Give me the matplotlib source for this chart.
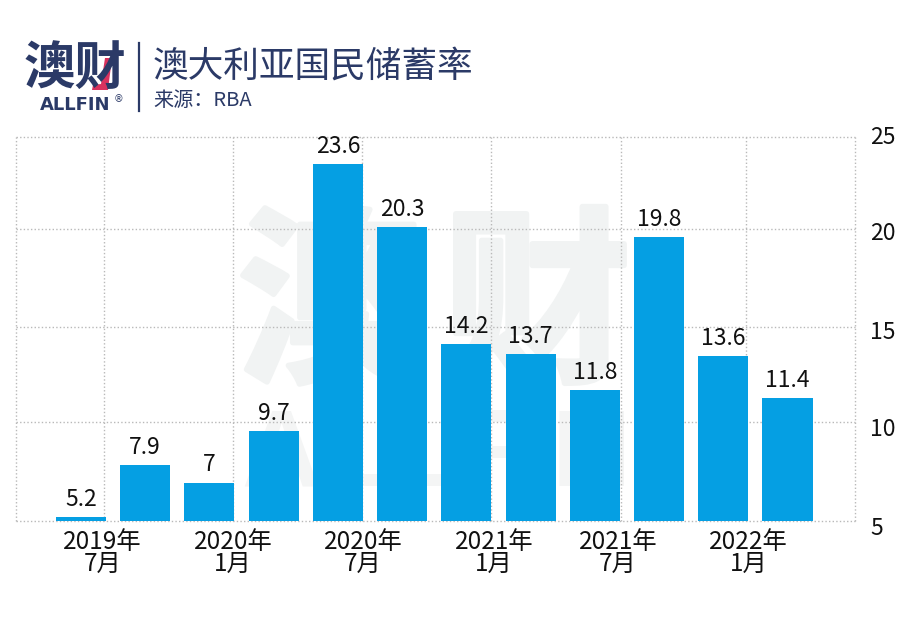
import matplotlib
matplotlib.use("Agg")
import matplotlib.pyplot as plt
import matplotlib.patheffects as pe
from matplotlib.lines import Line2D
from matplotlib.patches import Polygon

plt.rcParams['font.family'] = ['Noto Sans CJK SC', 'DejaVu Sans']

# data
periods = ["2019-07", "2019-10", "2020-01", "2020-04", "2020-07", "2020-10",
           "2021-01", "2021-04", "2021-07", "2021-10", "2022-01", "2022-04"]
saving_rate = [5.2, 7.9, 7, 9.7, 23.6, 20.3, 14.2, 13.7, 11.8, 19.8, 13.6, 11.4]
x_labels = ["2019年\n7月", "2020年\n1月", "2020年\n7月", "2021年\n1月", "2021年\n7月", "2022年\n1月"]
y_labels = ["5", "10", "15", "20", "25"]

W, H = 915, 618
NAVY = "#2b3a67"
BLUE = "#059fe3"
GRID = "#b9b9b9"
WATERMARK = "#f1f3f3"


def fx(px):
    return px / W


def fy(py):
    return 1 - py / H


fig = plt.figure(figsize=(W / 100, H / 100), dpi=100)
ax = fig.add_axes([fx(16), fy(521), fx(855 - 16), (521 - 137) / H])
ax.set_zorder(2)
ax.patch.set_alpha(0)

# watermark sits behind the bars
heavy = [pe.withStroke(linewidth=4, foreground=WATERMARK)]
fig.text(fx(332), fy(312), "澳", fontsize=136, fontweight="black", color=WATERMARK,
         ha="center", va="center", zorder=0, path_effects=heavy)
fig.text(fx(537), fy(312), "财", fontsize=136, fontweight="black", color=WATERMARK,
         ha="center", va="center", zorder=0, path_effects=heavy)
fig.text(fx(436), fy(457), "ALLFIN", fontsize=79, fontweight="bold", color="#f4f5f5",
         ha="center", va="center", zorder=0, family="Liberation Sans")

x = range(len(saving_rate))
bars = ax.bar(x, saving_rate, width=0.78, color=BLUE, zorder=3)
ax.bar_label(bars, fmt="%g", padding=4.5, fontsize=16.5, color="#111111")

ax.set_xlim(-1.01, 12.05)
ax.set_ylim(5, 25)

# the dotted grid in the original does not line up exactly with the value scale
grid_y = [5, 10.17, 15.1, 20.2, 25]
grid_x = [-1.01, 0.36, 2.37, 4.38, 6.39, 8.41, 10.36, 12.05]
ax.hlines(grid_y, -1.01, 12.05, color=GRID, linestyle=(0, (1, 1.6)), lw=1, zorder=1, clip_on=False)
ax.vlines(grid_x, 5, 25, color=GRID, linestyle=(0, (1, 1.6)), lw=1, zorder=1, clip_on=False)

for s in ax.spines.values():
    s.set_visible(False)

ax.set_xticks([0.34, 2.37, 4.39, 6.43, 8.36, 10.39], x_labels, fontsize=17.5, color="#111111", linespacing=0.8)
ax.tick_params(axis="x", length=0, pad=6)
ax.set_yticks([])

# y labels are offset from the grid in the original
y_label_pos = [4.59, 9.74, 14.8, 19.95, 25.0]
for pos, lab in zip(y_label_pos, y_labels):
    ax.text(1.018, pos, lab, transform=ax.get_yaxis_transform(), fontsize=16.5, color="#111111",
            ha="left", va="center", clip_on=False)

# logo and title
fig.text(fx(75), fy(68), "澳财", fontsize=37, fontweight="black", color=NAVY, ha="center", va="center")
fig.add_artist(Polygon([[fx(105), fy(58)], [fx(112), fy(58)], [fx(108), fy(90)], [fx(92), fy(90)], [fx(93), fy(85)], [fx(101), fy(84)]],
                       closed=True, facecolor="#d8325e", edgecolor="none", transform=fig.transFigure))
fig.text(fx(40), fy(105), "ALLFIN", fontsize=13, fontweight="bold", color=NAVY, ha="left", va="center",
         family="DejaVu Sans")
fig.text(fx(114), fy(99), "®", fontsize=7, color=NAVY, ha="left", va="center", family="DejaVu Sans")
fig.add_artist(Line2D([fx(138.5), fx(138.5)], [fy(43), fy(111)], color=NAVY, lw=1.6, transform=fig.transFigure))
fig.text(fx(153), fy(66.5), "澳大利亚国民储蓄率", fontsize=25.7, color=NAVY, ha="left", va="center")
fig.text(fx(153), fy(101), "来源：RBA", fontsize=14.5, color=NAVY, ha="left", va="center")

fig.savefig("out.png", dpi=100)
